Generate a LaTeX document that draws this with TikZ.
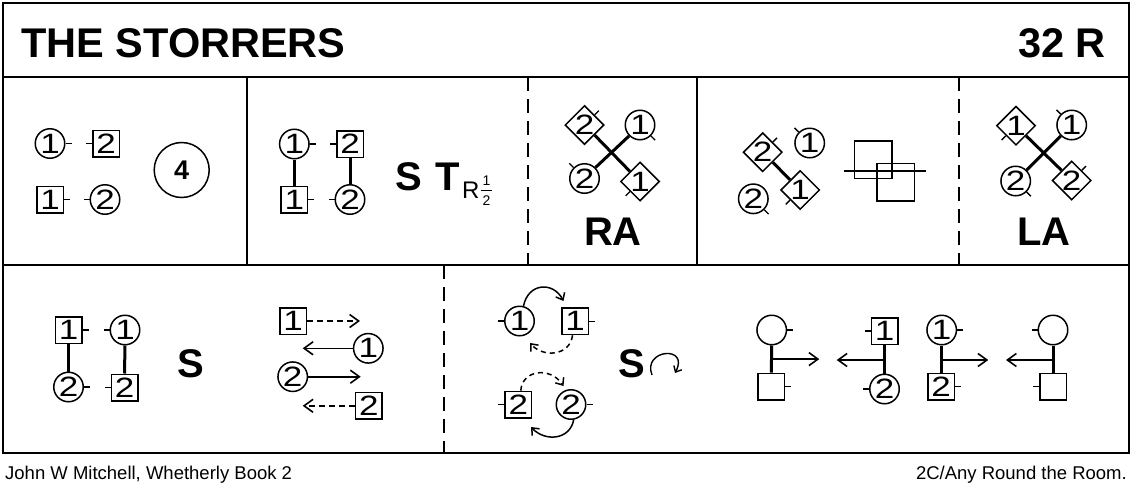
\documentclass[tikz,border=0pt]{standalone}
\usepackage{fontspec}
\setmainfont{Liberation Sans}
\newfontfamily\digf[FakeStretch=1.25]{Liberation Sans}
\usetikzlibrary{arrows.meta,calc,shapes.geometric}
\newcommand\fs[1]{\fontsize{#1}{#1}\selectfont}
\newcommand\tk[2]{\draw[tickl] (#1.#2) -- ($(#1.#2)!6pt!180:(#1.center)$);}
\begin{document}
\begin{tikzpicture}[x=1pt,y=-1pt,
  frm/.style={line width=2pt},
  sepdash/.style={line width=2pt,dash pattern=on 14pt off 8pt},
  dancer/.style={draw,line width=1.5pt,inner sep=0pt,font=\digf\fs{28}},
  circ/.style={dancer,circle,minimum size=29.5pt},
  sq/.style={dancer,rectangle,minimum size=26.5pt},
  dia/.style={dancer,diamond,aspect=1,minimum size=39pt},
  tickl/.style={line width=1.4pt},
  bar/.style={line width=3pt},
  arr/.style={line width=1.6pt,-{Straight Barb[length=9pt,width=13pt]}},
  darr/.style={arr,dash pattern=on 6pt off 4pt},
  carr/.style={line width=1.5pt,-{Straight Barb[length=6pt,width=10pt]}},
  dcarr/.style={carr,dash pattern=on 5pt off 4pt},
  big/.style={inner sep=0pt,anchor=base,font=\bfseries\fs{40}},
]
\useasboundingbox (0,0) rectangle (1133,490);
% ---------- frame
\draw[frm] (3,3) rectangle (1128.5,452.5);
\draw[frm] (3,77) -- (1128.5,77);
\draw[frm] (3,265) -- (1128.5,265);
\draw[frm] (247,77) -- (247,265);
\draw[frm] (697,77) -- (697,265);
\draw[sepdash] (528,77) -- (528,265);
\draw[sepdash] (959,77) -- (959,265);
\draw[sepdash] (443.5,265) -- (443.5,452.5);
% ---------- title and footer
\node[inner sep=0pt,anchor=base west,font=\bfseries\fs{41.5}] (title) at (21,57.5) {THE STORRERS};
\node[inner sep=0pt,anchor=base east,font=\bfseries\fs{41.5}] (code) at (1106,57.5) {32 R};
\node[inner sep=0pt,anchor=base west,font=\fs{18.5}] (auth) at (5,479) {John W Mitchell, Whetherly Book 2};
\node[inner sep=0pt,anchor=base east,font=\fs{18.5}] (form) at (1127,479) {2C/Any Round the Room.};
% ---------- panel 1
\node[circ] (c1a) at (50,143.5) {1}; \tk{c1a}{east}
\node[sq]   (s2a) at (106,143.5) {2}; \tk{s2a}{west}
\node[sq]   (s1a) at (50,199.5) {1}; \tk{s1a}{east}
\node[circ] (c2a) at (105,199.5) {2}; \tk{c2a}{west}
\node[draw,circle,line width=1.5pt,minimum size=55pt,inner sep=0pt,font=\bfseries\fs{27}] (four) at (181.7,170) {4};
% ---------- panel 2
\node[circ] (c1b) at (294.3,144) {1}; \tk{c1b}{east}
\node[sq]   (s2b) at (350,144) {2}; \tk{s2b}{west}
\node[sq]   (s1b) at (294.3,199.5) {1}; \tk{s1b}{east}
\node[circ] (c2b) at (350,199.5) {2}; \tk{c2b}{west}
\draw[bar] (c1b.south) -- (s1b.north);
\draw[bar] (s2b.south) -- (c2b.north);
\node[inner sep=0pt,anchor=base west,font=\bfseries\fs{40}] (sb) at (395,190) {S};
\node[inner sep=0pt,anchor=base west,font=\bfseries\fs{40}] (tb) at (435,190) {T};
\node[inner sep=0pt,anchor=base west,font=\fs{24}] (rb) at (462,198.5) {R};
\node[inner sep=0pt,font=\fs{14}] (fn) at (486.5,181) {1};
\node[inner sep=0pt,font=\fs{14}] (fd) at (486.5,200.5) {2};
\draw[line width=0.9pt] (480.5,190.7) -- (492,190.7);
% ---------- RA panel
\node[dia]  (d2r) at (584.5,125) {2}; \tk{d2r}{45}
\node[circ] (c1r) at (640,125) {1}; \tk{c1r}{-45}
\node[circ] (c2r) at (584.5,178.5) {2}; \tk{c2r}{135}
\node[dia]  (d1r) at (640,181.5) {1}; \tk{d1r}{-135}
\draw[bar] (d2r.-45) -- (d1r.135);
\draw[bar] (c1r.-135) -- (c2r.45);
\node[big] (ra) at (613,245) {RA};
% ---------- panel 4
\node[dia]  (d2p) at (762.7,152.2) {2}; \tk{d2p}{45}
\node[dia]  (d1p) at (800.2,190) {1}; \tk{d1p}{-135}
\draw[bar] (d2p.-45) -- (d1p.135);
\node[circ] (c1p) at (809.7,143) {1}; \tk{c1p}{135}
\node[circ] (c2p) at (753.3,198.8) {2}; \tk{c2p}{-45}
\draw[line width=1.7pt] (854.5,141) rectangle (892,178.5);
\draw[line width=1.7pt] (877,163.5) rectangle (914.5,201.3);
\draw[line width=1.6pt] (843.5,171) -- (925.5,171);
% ---------- LA panel
\node[dia]  (d1l) at (1016,125.7) {1}; \tk{d1l}{-135}
\node[circ] (c1l) at (1071.7,125) {1}; \tk{c1l}{135}
\node[circ] (c2l) at (1015.7,181) {2}; \tk{c2l}{-45}
\node[dia]  (d2l) at (1071.7,180.5) {2}; \tk{d2l}{45}
\draw[bar] (d1l.-45) -- (d2l.135);
\draw[bar] (c1l.-135) -- (c2l.45);
\node[big] (la) at (1044,245) {LA};
% ---------- bottom left
\node[sq]   (s1c) at (68.5,330) {1}; \tk{s1c}{east}
\node[circ] (c1c) at (125,330) {1}; \tk{c1c}{west}
\node[circ] (c2c) at (68.5,387) {2}; \tk{c2c}{east}
\node[sq]   (s2c) at (124.5,387.5) {2}; \tk{s2c}{west}
\draw[bar] (s1c.south) -- (c2c.north);
\draw[bar] (c1c.south) -- (s2c.north);
\node[big] (sc) at (191,377) {S};
\node[sq]   (s1d) at (293,321) {1};
\node[circ] (c1d) at (368.3,348.3) {1};
\node[circ] (c2d) at (292.7,376.7) {2};
\node[sq]   (s2d) at (368.8,405.8) {2};
\draw[darr] (s1d.east) -- (s1d.east -| 360,0);
\draw[arr]  (c1d.west) -- (c1d.west -| 302.7,0);
\draw[arr]  (c2d.east) -- (c2d.east -| 360.7,0);
\draw[darr] (s2d.west) -- (s2d.west -| 302.7,0);
% ---------- bottom middle
\node[circ] (c1e) at (519.5,321) {1}; \tk{c1e}{west}
\node[sq]   (s1e) at (575,321.3) {1}; \tk{s1e}{east}
\node[sq]   (s2e) at (518.3,404.7) {2}; \tk{s2e}{west}
\node[circ] (c2e) at (571,404.5) {2}; \tk{c2e}{east}
\coordinate (e1) at (563.5,301);
\coordinate (e2) at (530,343);
\coordinate (e3) at (563.5,386);
\coordinate (e4) at (531,427);
\draw[carr]  (c1e.75) .. controls (528,283) and (553,281) .. (e1);
\draw[dcarr] (s1e.-100) .. controls (570,356) and (543,358) .. (e2);
\draw[dcarr] (s2e.80) .. controls (522,370) and (550,366) .. (e3);
\draw[carr]  (c2e.-80) .. controls (570,440) and (545,442) .. (e4);
\node[big] (se) at (631.7,377) {S};
\coordinate (rs) at (652,375);
\coordinate (re) at (675,373);
\draw[line width=1.4pt,-{Straight Barb[length=5pt,width=9pt]}] (rs) .. controls (642,349) and (690,345) .. (re);
% ---------- bottom right
\node[circ] (ca) at (771.7,330) {}; \tk{ca}{east}
\node[sq]   (sa) at (771.3,386.7) {}; \tk{sa}{east}
\draw[bar] (ca.south) -- (sa.north);
\coordinate (ma) at ($(ca.south)!0.5!(sa.north)$);
\draw[arr] (ma) -- (ma -| 819.3,0);
\node[sq]   (sbb) at (884.5,331) {1}; \tk{sbb}{west}
\node[circ] (cbb) at (884.5,389) {2}; \tk{cbb}{west}
\draw[bar] (sbb.south) -- (cbb.north);
\coordinate (mb) at (884.5,360);
\draw[arr] (mb) -- (mb -| 836.7,0);
\node[circ] (ccc) at (941.7,330) {1}; \tk{ccc}{east}
\node[sq]   (scc) at (941,386.7) {2}; \tk{scc}{east}
\draw[bar] (ccc.south) -- (ccc.south |- scc.north);
\coordinate (mc) at (941.7,360);
\draw[arr] (mc) -- (mc -| 988.3,0);
\node[circ] (cdd) at (1053,330) {}; \tk{cdd}{west}
\node[sq]   (sdd) at (1053.3,386.7) {}; \tk{sdd}{west}
\draw[bar] (cdd.south) -- (cdd.south |- sdd.north);
\coordinate (md) at (1053,360);
\draw[arr] (md) -- (md -| 1006,0);
\end{tikzpicture}
\end{document}
